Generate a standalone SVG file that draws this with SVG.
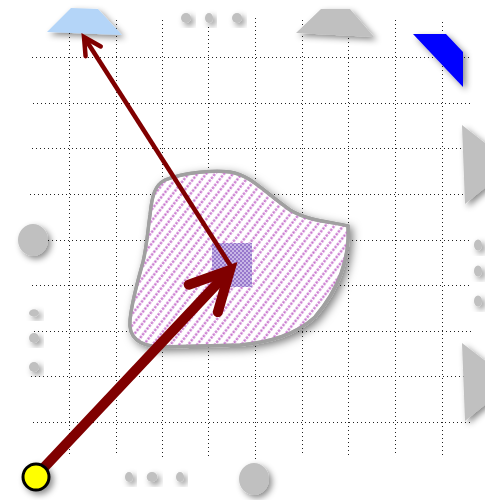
<svg xmlns="http://www.w3.org/2000/svg" width="485" height="500" viewBox="0 0 485 500">
  <defs>
    <filter id="sh" x="-50%" y="-50%" width="200%" height="200%">
      <feDropShadow dx="3" dy="3" stdDeviation="3" flood-color="#000" flood-opacity="0.45"/>
    </filter>
    <filter id="shb" x="-30%" y="-30%" width="160%" height="160%">
      <feDropShadow dx="3" dy="3" stdDeviation="4" flood-color="#000" flood-opacity="0.5"/>
    </filter>
    <pattern id="hatch" width="3.6" height="7" patternUnits="userSpaceOnUse" patternTransform="rotate(-52)">
      <rect x="0" y="2.4" width="2.4" height="2.2" fill="#c671cc"/>
    </pattern>
    <pattern id="checker" width="4" height="4" patternUnits="userSpaceOnUse">
      <rect x="0" y="0" width="4" height="4" fill="#c8b6e6"/>
      <rect x="0" y="0" width="2" height="2" fill="#9878cc"/>
      <rect x="2" y="2" width="2" height="2" fill="#9878cc"/>
    </pattern>
    <marker id="ahThick" markerUnits="userSpaceOnUse" viewBox="-50 -25 60 50" refX="0" refY="0" markerWidth="60" markerHeight="50" orient="auto" overflow="visible">
      <path d="M-39,-20 L0,0 L-39,20" fill="none" stroke="#800000" stroke-width="10" stroke-linecap="round" stroke-linejoin="miter"/>
    </marker>
    <marker id="ahThin" markerUnits="userSpaceOnUse" viewBox="-25 -15 30 30" refX="0" refY="0" markerWidth="30" markerHeight="30" orient="auto" overflow="visible">
      <path d="M-17,-9 L0,0 L-17,9" fill="none" stroke="#800000" stroke-width="4.5" stroke-linecap="round" stroke-linejoin="miter"/>
    </marker>
  </defs>
  <style>
    .grid line { stroke: #222; stroke-width: 1; stroke-dasharray: 1 3; }
    .gray { fill: #c0c0c0; filter: url(#sh); }
    .conn { fill: none; stroke: #800000; }
  </style>
  <rect width="485" height="500" fill="#fff"/>
  <g id="grid" class="grid">
    <line x1="32" y1="57.5" x2="472" y2="57.5"/>
    <line x1="33" y1="103.5" x2="472" y2="103.5"/>
    <line x1="32" y1="148.5" x2="470" y2="148.5"/>
    <line x1="30" y1="194.5" x2="471" y2="194.5"/>
    <line x1="32" y1="240.5" x2="470" y2="240.5"/>
    <line x1="32" y1="285.5" x2="472" y2="285.5"/>
    <line x1="34" y1="331.5" x2="471" y2="331.5"/>
    <line x1="31" y1="376.5" x2="472" y2="376.5"/>
    <line x1="33" y1="422.5" x2="470" y2="422.5"/>
    <line x1="69.5" y1="33" x2="69.5" y2="455"/>
    <line x1="116.5" y1="20" x2="116.5" y2="455"/>
    <line x1="162.5" y1="20" x2="162.5" y2="457"/>
    <line x1="208.5" y1="27" x2="208.5" y2="458"/>
    <line x1="255.5" y1="18" x2="255.5" y2="460"/>
    <line x1="302.5" y1="20" x2="302.5" y2="456"/>
    <line x1="348.5" y1="38" x2="348.5" y2="458"/>
    <line x1="395.5" y1="20" x2="395.5" y2="455"/>
    <line x1="442.5" y1="22" x2="442.5" y2="457"/>
  </g>
  <g id="trap-blue"><path d="M71,8 L98,9 L122,35 L47,32 Z" fill="#b4d5f8" filter="url(#sh)"/></g>
  <g id="trap-gray"><path class="gray" d="M321,9 L350,9 L374,37 L296,33 Z"/></g>
  <g id="shape-blue"><path d="M413,34 L446,34 L463,52 L463,87 Z" fill="#0000ff" filter="url(#sh)"/></g>
  <g id="dot-t1"><circle class="gray" cx="186" cy="18" r="5"/></g>
  <g id="dot-t2"><ellipse class="gray" cx="209" cy="18" rx="4" ry="5"/></g>
  <g id="dot-t3"><circle class="gray" cx="237" cy="18" r="5"/></g>
  <g id="circle-left"><ellipse class="gray" cx="33" cy="240" rx="15" ry="16"/></g>
  <g id="dot-l1"><ellipse class="gray" cx="34" cy="313" rx="5" ry="3.7"/></g>
  <g id="dot-l2"><circle class="gray" cx="34" cy="338" r="5"/></g>
  <g id="dot-l3"><circle class="gray" cx="34" cy="367" r="5"/></g>
  <g id="tri-r1"><path class="gray" d="M462,125 L465,204 L513,165 Z"/></g>
  <g id="tri-r2"><path class="gray" d="M462,343 L465,421 L513,382 Z"/></g>
  <g id="dot-r1"><ellipse class="gray" cx="478" cy="245" rx="4" ry="5.5"/></g>
  <g id="dot-r2"><ellipse class="gray" cx="478" cy="271" rx="4" ry="5.5"/></g>
  <g id="dot-r3"><ellipse class="gray" cx="478" cy="301" rx="4" ry="5.5"/></g>
  <g id="dot-b1"><ellipse class="gray" cx="129" cy="477" rx="4" ry="5"/></g>
  <g id="dot-b2"><ellipse class="gray" cx="152" cy="477" rx="5.3" ry="5"/></g>
  <g id="dot-b3"><ellipse class="gray" cx="180" cy="477" rx="4" ry="5"/></g>
  <g id="circle-bottom"><ellipse class="gray" cx="254" cy="479" rx="15" ry="16"/></g>
  <g id="blob">
    <path d="M165,180 C185,172 215,170 230,172 C250,175 262,190 290,210 C310,222 335,222 348,226 C350,260 338,290 315,317 C295,335 270,342 240,345 L160,347 C140,346 128,338 130,320 C132,300 138,280 143,262 C147,245 148,228 150,215 C152,195 155,185 165,180 Z" fill="#fff" stroke="#a0a0a0" stroke-width="3.5" filter="url(#shb)"/>
    <path d="M165,180 C185,172 215,170 230,172 C250,175 262,190 290,210 C310,222 335,222 348,226 C350,260 338,290 315,317 C295,335 270,342 240,345 L160,347 C140,346 128,338 130,320 C132,300 138,280 143,262 C147,245 148,228 150,215 C152,195 155,185 165,180 Z" fill="url(#hatch)" stroke="#a0a0a0" stroke-width="3"/>
  </g>
  <g id="checker-square"><rect x="212" y="243" width="40" height="44" fill="url(#checker)"/></g>
  <g id="connectors">
    <path class="conn" d="M36,476 L230,270" stroke-width="10" marker-end="url(#ahThick)"/>
    <path class="conn" d="M232,268 L84,37" stroke-width="4.5" marker-end="url(#ahThin)"/>
  </g>
  <g id="start"><circle cx="36" cy="477" r="13" fill="#ffff00" stroke="#000" stroke-width="3" filter="url(#sh)"/></g>
</svg>
